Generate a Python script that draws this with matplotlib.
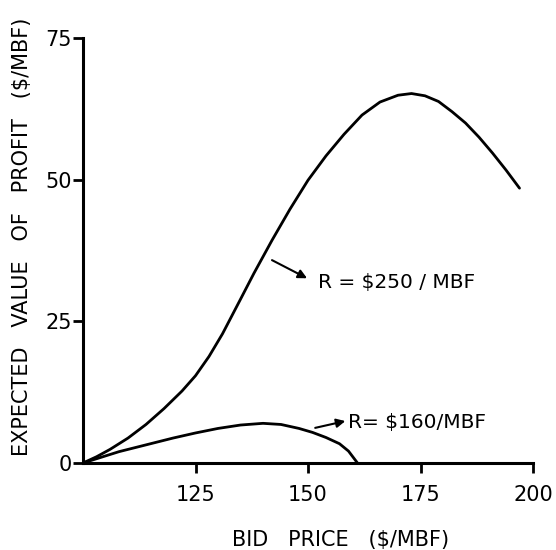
import matplotlib
matplotlib.use("Agg")
import matplotlib.pyplot as plt

# Data
bid_250 = [100, 103, 106, 110, 114, 118, 122, 125, 128, 131, 135, 138, 142, 146, 150, 154,
           158, 162, 166, 170, 173, 176, 179, 182, 185, 188, 191, 194, 197]
ev_250 = [0, 1.1, 2.4, 4.4, 6.8, 9.6, 12.7, 15.4, 18.8, 22.8, 28.9, 33.5, 39.3, 44.8, 49.9, 54.2,
          58.0, 61.4, 63.7, 64.9, 65.2, 64.8, 63.8, 62.0, 60.0, 57.5, 54.7, 51.7, 48.5]

bid_160 = [100, 104, 108, 112, 116, 120, 125, 130, 135, 140, 144, 148, 151, 154, 157, 159, 161]
ev_160 = [0, 1.0, 2.0, 2.8, 3.6, 4.4, 5.3, 6.1, 6.7, 7.0, 6.8, 6.1, 5.4, 4.5, 3.4, 2.1, 0]

x_ticks = [125, 150, 175, 200]
y_ticks = [0, 25, 50, 75]

label_250 = "R = $250 / MBF"
label_160 = "R= $160/MBF"

plt.rcParams['font.family'] = ['DejaVu Sans']

fig = plt.figure(figsize=(5.56, 5.5), dpi=100)
ax = fig.add_axes([83/556, 1-463/550, 450/556, 425/550])

ax.plot(bid_250, ev_250, color='black', lw=2.0, solid_capstyle='round')
ax.plot(bid_160, ev_160, color='black', lw=2.0, solid_capstyle='round')

ax.set_xlim(100, 200)
ax.set_ylim(0, 75)
ax.set_xticks(x_ticks)
ax.set_yticks(y_ticks)
ax.tick_params(axis='both', direction='out', length=7, width=2, labelsize=15)
ax.tick_params(axis='x', pad=9)
ax.tick_params(axis='y', pad=1)
for s in ['top', 'right']:
    ax.spines[s].set_visible(False)
for s in ['left', 'bottom']:
    ax.spines[s].set_linewidth(2.2)

arrow_kw = dict(arrowstyle='-|>', color='black', lw=1.5, mutation_scale=13, shrinkA=0, shrinkB=0)

ax.text(152.3, 31.8, label_250, fontsize=14.5, va='center', ha='left')
ax.annotate('', xy=(149.8, 32.6), xytext=(142.0, 35.8), arrowprops=arrow_kw)

ax.text(158.8, 7.2, label_160, fontsize=14.5, va='center', ha='left')
ax.annotate('', xy=(158.3, 7.4), xytext=(151.6, 6.2), arrowprops=arrow_kw)

fig.text(341/556, 1-540/550, "BID   PRICE   ($/MBF)", ha='center', va='center', fontsize=15)
fig.text(22/556, 1-237/550, "EXPECTED   VALUE   OF   PROFIT   ($/MBF)", ha='center', va='center',
         rotation=90, fontsize=15)

fig.savefig("out.png", dpi=100, facecolor='white')
